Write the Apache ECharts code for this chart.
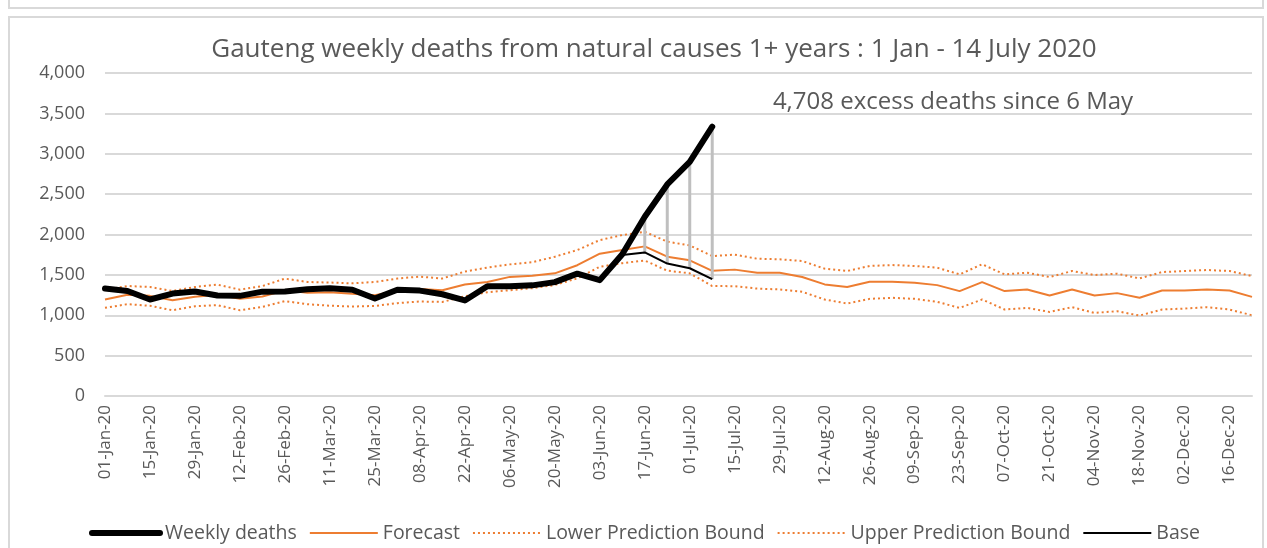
<!DOCTYPE html>
<html>
<head>
<meta charset="utf-8">
<script src="https://cdn.jsdelivr.net/npm/echarts@6/dist/echarts.min.js"></script>
<style>
  html, body { margin: 0; padding: 0; background: #fff; }
  #topline { position: absolute; left: 8px; top: 0; width: 1252px; height: 7px; border: 2px solid #d9d9d9; border-top: none; }
  #frame { position: absolute; left: 8px; top: 16px; width: 1252px; height: 540px; border: 2px solid #d9d9d9; border-bottom: none; }
  #chart { position: absolute; left: 0; top: 0; width: 1267px; height: 548px; }
</style>
</head>
<body>
<div id="topline"></div>
<div id="frame"></div>
<div id="chart"></div>
<script>
// weekly categories, 01-Jan-20 .. 23-Dec-20
var weeks = ['01-Jan-20','08-Jan-20','15-Jan-20','22-Jan-20','29-Jan-20','05-Feb-20','12-Feb-20','19-Feb-20','26-Feb-20',
  '04-Mar-20','11-Mar-20','18-Mar-20','25-Mar-20','01-Apr-20','08-Apr-20','15-Apr-20','22-Apr-20','29-Apr-20',
  '06-May-20','13-May-20','20-May-20','27-May-20','03-Jun-20','10-Jun-20','17-Jun-20','24-Jun-20','01-Jul-20',
  '08-Jul-20','15-Jul-20','22-Jul-20','29-Jul-20','05-Aug-20','12-Aug-20','19-Aug-20','26-Aug-20','02-Sep-20',
  '09-Sep-20','16-Sep-20','23-Sep-20','30-Sep-20','07-Oct-20','14-Oct-20','21-Oct-20','28-Oct-20','04-Nov-20',
  '11-Nov-20','18-Nov-20','25-Nov-20','02-Dec-20','09-Dec-20','16-Dec-20','23-Dec-20'];

var weeklyDeaths = [1330, 1300, 1195, 1268, 1295, 1245, 1240, 1292, 1295, 1321, 1335, 1315, 1207, 1315, 1305, 1260,
  1183, 1360, 1360, 1370, 1410, 1515, 1435, 1755, 2220, 2620, 2900, 3335];

var forecast = [1196, 1255, 1240, 1185, 1230, 1255, 1205, 1233, 1310, 1280, 1285, 1265, 1248, 1305, 1325, 1310,
  1380, 1412, 1475, 1490, 1519, 1620, 1762, 1807, 1853, 1725, 1680, 1550, 1565, 1527, 1527, 1473, 1382, 1349,
  1415, 1415, 1402, 1373, 1299, 1411, 1299, 1320, 1245, 1320, 1245, 1274, 1216, 1307, 1307, 1320, 1307, 1228];

var lowerBound = [1092, 1137, 1117, 1062, 1112, 1125, 1062, 1104, 1175, 1137, 1118, 1108, 1115, 1150, 1170, 1165,
  1235, 1285, 1310, 1335, 1374, 1457, 1601, 1645, 1678, 1552, 1519, 1362, 1360, 1330, 1320, 1290, 1195, 1145,
  1203, 1216, 1203, 1166, 1091, 1195, 1071, 1091, 1041, 1100, 1029, 1050, 996, 1071, 1083, 1100, 1071, 1000];

var upperBound = [1315, 1362, 1350, 1300, 1350, 1379, 1317, 1362, 1454, 1412, 1405, 1395, 1412, 1455, 1478, 1455,
  1541, 1590, 1630, 1657, 1725, 1807, 1931, 1993, 2034, 1911, 1865, 1733, 1750, 1700, 1693, 1672, 1577, 1548,
  1610, 1622, 1610, 1589, 1506, 1631, 1506, 1527, 1473, 1548, 1498, 1515, 1456, 1535, 1548, 1560, 1548, 1485];

var base = [null, null, null, null, null, null, null, null, null, null, null, null, null, null, null, null,
  null, null, null, null, null, null, null, 1745, 1778, 1640, 1582, 1447];

var yTicks = [0, 500, 1000, 1500, 2000, 2500, 3000, 3500, 4000];

var font = '"Open Sans", sans-serif';
var grey = '#595959';
var orange = '#ed7d31';

// gap lines between base and weekly deaths
var gapData = [];
for (var i = 0; i < base.length; i++) {
  if (base[i] != null && weeklyDeaths[i] != null) gapData.push([i, base[i], weeklyDeaths[i]]);
}

var myChart = echarts.init(document.getElementById('chart'));
var option = {
  animation: false,
  title: [
    {
      text: 'Gauteng weekly deaths from natural causes 1+ years : 1 Jan - 14 July 2020',
      left: 649, top: 32, textAlign: 'center',
      textStyle: { fontFamily: font, fontSize: 26, fontWeight: 'normal', color: grey }
    },
    {
      text: '4,708 excess deaths since 6 May',
      left: 948, top: 85, textAlign: 'center',
      textStyle: { fontFamily: font, fontSize: 24, fontWeight: 'normal', color: grey }
    }
  ],
  legend: {
    bottom: 0,
    left: 84,
    itemWidth: 68,
    itemHeight: 6,
    itemGap: 12,
    textStyle: { fontFamily: font, fontSize: 19.5, color: grey },
    itemStyle: { opacity: 0 },
    data: [
      { name: 'Weekly deaths', lineStyle: { width: 6, color: '#000' } },
      { name: 'Forecast', lineStyle: { width: 2 } },
      { name: 'Lower Prediction Bound', lineStyle: { width: 2 } },
      { name: 'Upper Prediction Bound', lineStyle: { width: 2 } },
      { name: 'Base', lineStyle: { width: 2 } }
    ]
  },
  grid: { left: 105, right: 15, top: 73, bottom: 152 },
  xAxis: {
    type: 'category',
    boundaryGap: false,
    data: weeks,
    axisLine: { lineStyle: { color: '#d9d9d9', width: 2 } },
    axisTick: { show: false },
    axisLabel: {
      interval: 1, rotate: 90, margin: 9,
      fontFamily: font, fontSize: 17, color: grey
    }
  },
  yAxis: {
    type: 'value',
    min: 0, max: 4000, interval: 500,
    axisLine: { show: false },
    axisTick: { show: false },
    splitLine: { lineStyle: { color: '#d9d9d9', width: 2 } },
    axisLabel: {
      margin: 20, fontFamily: font, fontSize: 18, color: grey,
      formatter: function (v) { return yTicks.indexOf(v) >= 0 ? v.toLocaleString('en-US') : ''; }
    }
  },
  series: [
    {
      name: 'Weekly deaths', type: 'line', data: weeklyDeaths,
      symbol: 'none', z: 5,
      lineStyle: { color: '#000', width: 6, cap: 'round', join: 'round' },
      itemStyle: { color: '#000' }
    },
    {
      name: 'Forecast', type: 'line', data: forecast,
      symbol: 'none', z: 3,
      lineStyle: { color: orange, width: 2 },
      itemStyle: { color: orange }
    },
    {
      name: 'Lower Prediction Bound', type: 'line', data: lowerBound,
      symbol: 'none', z: 3,
      lineStyle: { color: orange, width: 2, type: [2, 3] },
      itemStyle: { color: orange }
    },
    {
      name: 'Upper Prediction Bound', type: 'line', data: upperBound,
      symbol: 'none', z: 3,
      lineStyle: { color: orange, width: 2, type: [2, 3] },
      itemStyle: { color: orange }
    },
    {
      name: 'Base', type: 'line', data: base,
      symbol: 'none', z: 4,
      lineStyle: { color: '#000', width: 2 },
      itemStyle: { color: '#000' }
    },
    {
      name: 'gap', type: 'custom', data: gapData, z: 4,
      renderItem: function (params, api) {
        var p0 = api.coord([api.value(0), api.value(1)]);
        var p1 = api.coord([api.value(0), api.value(2)]);
        return {
          type: 'line',
          shape: { x1: p0[0], y1: p0[1], x2: p1[0], y2: p1[1] },
          style: { stroke: '#bfbfbf', lineWidth: 3 }
        };
      }
    }
  ]
};
myChart.setOption(option);
</script>
</body>
</html>
